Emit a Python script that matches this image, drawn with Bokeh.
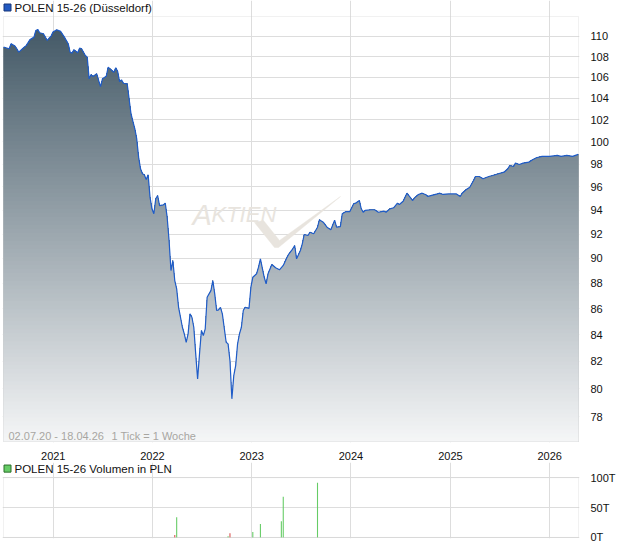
import numpy as np
import pandas as pd
from bokeh.plotting import figure
from bokeh.layouts import column
from bokeh.models import (Range1d, FixedTicker, PrintfTickFormatter, DatetimeTickFormatter,
                          Label, BoxAnnotation)
from bokeh.core.properties import value
from bokeh.embed import file_html
from bokeh.resources import INLINE

# ---- data -------------------------------------------------------------
start = pd.Timestamp("2020-07-02")          # first weekly tick
end = pd.Timestamp("2026-04-17")

# week number after start / weekly closing price
weeks = [0, 3, 4, 6, 7, 8, 10, 12, 14, 16, 17, 18, 19, 21, 23, 24, 25, 26, 28, 30,
         32, 34, 35, 36, 37, 39, 40, 41, 43, 44, 45, 46, 47, 49, 50, 51, 52, 54, 55, 56,
         58, 59, 60, 61, 62, 63, 65, 66, 67, 68, 69, 70, 71, 72, 73, 74, 75, 76, 77, 78,
         79, 80, 81, 82, 84, 85, 86, 87, 88, 89, 90, 91, 92, 93, 94, 95, 96, 97, 98, 99,
         100, 101, 102, 103, 104, 105, 106, 107, 108, 109, 110, 111, 112, 113, 114, 115, 117, 118, 119, 120,
         121, 122, 123, 124, 125, 126, 127, 129, 130, 131, 133, 134, 135, 137, 138, 139, 141, 143, 145, 147,
         149, 150, 152, 153, 154, 156, 157, 158, 160, 161, 163, 165, 166, 168, 170, 172, 174, 175, 177, 178,
         180, 182, 184, 185, 187, 188, 189, 190, 193, 195, 197, 200, 201, 203, 205, 207, 208, 210, 212, 213,
         215, 216, 218, 220, 222, 223, 226, 228, 229, 231, 234, 236, 238, 240, 241, 243, 245, 247, 248, 250,
         252, 255, 257, 260, 263, 265, 266, 268, 269, 271, 273, 276, 278, 280, 283, 287, 291, 293, 296, 299,
         302]
prices = [108.94, 108.78, 109.28, 109.04, 108.78, 108.45, 108.78, 109.11, 109.70, 109.93,
          110.60, 110.70, 110.37, 110.27, 109.60, 109.83, 110.03, 110.43, 110.67, 110.50,
          109.93, 109.28, 108.45, 108.35, 108.68, 108.39, 108.84, 108.78, 108.12, 107.96,
          105.86, 106.27, 106.08, 106.34, 105.70, 105.12, 105.86, 106.11, 106.98, 106.82,
          106.49, 106.92, 106.56, 105.60, 105.76, 105.44, 105.38, 103.97, 102.57, 101.86,
          101.19, 100.28, 98.62, 97.59, 97.15, 97.06, 96.65, 97.06, 95.12, 94.12,
          93.70, 94.98, 95.26, 94.40, 94.46, 94.60, 93.41, 91.46, 89.01, 89.82,
          88.21, 87.55, 86.10, 85.33, 84.56, 84.06, 83.42, 84.06, 85.59, 85.33,
          84.56, 82.55, 80.70, 82.55, 84.31, 83.93, 84.44, 86.89, 87.15, 87.41,
          88.21, 87.15, 85.85, 85.90, 86.10, 85.59, 83.42, 83.30, 82.05, 79.26,
          80.94, 81.68, 83.30, 84.06, 84.56, 85.85, 86.10, 86.02, 87.68, 88.47,
          88.75, 89.28, 89.96, 88.47, 87.95, 88.75, 89.50, 89.23, 89.07, 89.42,
          90.09, 90.37, 90.78, 91.05, 89.96, 90.64, 91.19, 91.96, 91.88, 92.15,
          92.02, 92.57, 93.19, 92.99, 92.57, 92.35, 93.16, 92.57, 92.62, 93.70,
          93.89, 93.89, 94.55, 94.60, 94.83, 94.12, 93.83, 93.98, 94.04, 94.04,
          93.83, 93.92, 93.83, 94.12, 94.21, 94.60, 94.49, 94.77, 95.46, 95.26,
          94.83, 95.06, 95.35, 95.46, 95.32, 95.18, 95.32, 95.40, 95.46, 95.35,
          95.40, 95.40, 95.40, 95.18, 95.46, 95.75, 95.98, 96.56, 96.91, 96.91,
          96.71, 96.91, 97.00, 97.15, 97.29, 97.59, 97.88, 97.79, 98.09, 97.97,
          98.09, 98.18, 98.39, 98.57, 98.69, 98.69, 98.78, 98.69, 98.78, 98.69,
          98.87]

# weekly turnover in PLN
vol_weeks = [90, 91, 118, 119, 131, 135, 146, 147, 165]
volumes = [4000, 34000, 2000, 7000, 9000, 22500, 27000, 68000, 91500]
vol_up = [False, True, True, False, True, True, True, True, True]

price_ticks = [78, 80, 82, 84, 86, 88, 90, 92, 94, 96, 98, 100, 102, 104, 106, 108, 110]
volume_ticks = [0, 50000, 100000]
volume_labels = ["0T", "50T", "100T"]
years = [2021, 2022, 2023, 2024, 2025, 2026]

price_title = "POLEN 15-26 (Düsseldorf)"
volume_title = "POLEN 15-26 Volumen in PLN"
span_note = "02.07.20 - 18.04.26"
tick_note = "1 Tick = 1 Woche"

# ---- helpers ----------------------------------------------------------
def to_ms(ts):
    return (pd.DatetimeIndex(ts) - pd.Timestamp("1970-01-01")) / pd.Timedelta("1ms")

dates = start + pd.to_timedelta(np.array(weeks) * 7, unit="D")
x_ms = np.asarray(to_ms(dates), dtype=float)
vol_dates = start + pd.to_timedelta(np.array(vol_weeks) * 7, unit="D")
x0 = float(to_ms([start])[0])
x1 = float(to_ms([end])[0])
year_ms = [float(v) for v in to_ms([pd.Timestamp(f"{y}-01-01") for y in years])]

FONT = "Liberation Sans"
GRID = "#dddddd"
OUTLINE = "#d2d2d2"
TEXT = "#111111"
W = 620

# chart box (pixels): left 3, right 578; price box top 16, bottom 441
Y_MIN, Y_MAX = 76.26, 112.0
BOX_W, BOX_H = 575, 425
ms_px = (x1 - x0) / BOX_W
log_px = (np.log(Y_MAX) - np.log(Y_MIN)) / BOX_H
# the frame keeps 1px around the box and room for the heading on top
xr0, xr1 = x0 - ms_px, x1 + ms_px
yr0 = float(np.exp(np.log(Y_MIN) - log_px))
yr1 = float(np.exp(np.log(Y_MAX) + 16 * log_px))
H1 = 462

def fx(px):                      # page x pixel -> time
    return xr0 + (px - 2) * ms_px

def fy1(py):                     # page y pixel -> price (log scale)
    return float(np.exp(np.log(yr1) - py * log_px))

# ---- price chart ------------------------------------------------------
p1 = figure(width=W, height=H1, x_axis_type="datetime", y_axis_type="log",
            x_range=Range1d(xr0, xr1), y_range=Range1d(yr0, yr1),
            y_axis_location="right", output_backend="svg", toolbar_location=None,
            min_border_left=2, min_border_right=41, min_border_top=0, min_border_bottom=20)
p1.outline_line_color = None
p1.background_fill_color = "white"
p1.border_fill_color = "white"

p1.xaxis.ticker = FixedTicker(ticks=year_ms)
p1.xaxis.formatter = DatetimeTickFormatter(years="%Y", months="%Y", days="%Y", hours="%Y",
                                           hourmin="%Y", minutes="%Y", minsec="%Y",
                                           seconds="%Y", milliseconds="%Y", microseconds="%Y")
p1.yaxis.ticker = FixedTicker(ticks=price_ticks)
p1.yaxis.formatter = PrintfTickFormatter(format="%d")
for ax in (p1.xaxis[0], p1.yaxis[0]):
    ax.axis_line_color = None
    ax.major_tick_line_color = None
    ax.minor_tick_line_color = None
    ax.major_label_text_font = FONT
    ax.major_label_text_font_size = "11px"
    ax.major_label_text_color = TEXT
p1.xaxis.major_label_standoff = 3
p1.yaxis.major_label_standoff = 5
p1.xgrid.grid_line_color = GRID
p1.xgrid.bounds = (Y_MIN, Y_MAX)
p1.ygrid.grid_line_color = GRID
p1.ygrid.bounds = (x0, x1)
p1.ygrid.minor_grid_line_color = None

# watermark
wm = "#e8e4de"
p1.patch(x=[fx(254), fx(263), fx(279), fx(340), fx(278), fx(274)],
         y=[fy1(222), fy1(220), fy1(240), fy1(196), fy1(247), fy1(247)],
         fill_color=wm, line_color=wm, line_width=0.5)
p1.text(x=[fx(192)], y=[fy1(214)], text=["A"], text_font=value(FONT), text_font_style="italic",
        text_font_size="29px", text_color=wm, text_baseline="alphabetic")
p1.text(x=[fx(211)], y=[fy1(214)], text=["KTIEN"], text_font=value(FONT), text_font_style="italic",
        text_font_size="22px", text_color=wm, text_baseline="alphabetic")

# gradient fill under the price line, built from horizontal colour bands
N_BANDS = 106
edges = np.linspace(np.log(Y_MIN), np.log(Y_MAX), N_BANDS + 1)
ly = np.log(np.array(prices, dtype=float))
rx, ry = [x_ms[0]], [ly[0]]
for i in range(len(x_ms) - 1):
    a, b = ly[i], ly[i + 1]
    inner = edges[(edges > min(a, b)) & (edges < max(a, b))]
    if a > b:
        inner = inner[::-1]
    for e in inner:
        t = (e - a) / (b - a)
        rx.append(x_ms[i] + t * (x_ms[i + 1] - x_ms[i]))
        ry.append(e)
    rx.append(x_ms[i + 1])
    ry.append(b)
rx, ry = np.array(rx), np.array(ry)
top_rgb = np.array([63, 85, 99])
bot_rgb = np.array([245, 246, 247])
for k in range(N_BANDS - 1, -1, -1):
    t = (k + 0.5) / N_BANDS
    r, g, b_ = (bot_rgb + (top_rgb - bot_rgb) * t).round().astype(int)
    col = "#%02x%02x%02x" % (r, g, b_)
    p1.varea(x=rx, y1=Y_MIN, y2=np.exp(np.minimum(ry, edges[k + 1])), fill_color=col)

p1.line(x=x_ms, y=prices, line_color="#1f5cc8", line_width=1.2)

p1.add_layout(BoxAnnotation(left=x0, right=x1, bottom=Y_MIN, top=Y_MAX, fill_alpha=0,
                            line_color=OUTLINE, line_width=1))

p1.add_layout(Label(x=x0, y=Y_MIN, x_offset=5, y_offset=6, text=span_note,
                    text_font=FONT, text_font_size="11px", text_color="#a8a6a2",
                    text_baseline="middle"))
p1.add_layout(Label(x=x0, y=Y_MIN, x_offset=108, y_offset=6, text=tick_note,
                    text_font=FONT, text_font_size="11px", text_color="#a8a6a2",
                    text_baseline="middle"))

# heading with colour key
p1.quad(left=[fx(3.5)], right=[fx(10.5)], top=[fy1(3.5)], bottom=[fy1(10.5)],
        fill_color="#2259c1", line_color="#17367a", line_width=1)
p1.text(x=[fx(14)], y=[fy1(7.5)], text=[price_title], text_font=value(FONT),
        text_font_size="11.5px", text_color=TEXT, text_baseline="middle")

# ---- volume chart -----------------------------------------------------
H2 = 84
V_TOP = 100000
v_px = V_TOP / 59                 # box 477..536 on the page
vr0, vr1 = -v_px, V_TOP + 15 * v_px

def fy2(py):                      # page y pixel -> volume
    return vr1 - (py - H1) * v_px

p2 = figure(width=W, height=H2, x_axis_type="datetime", x_range=p1.x_range,
            y_range=Range1d(vr0, vr1), y_axis_location="right", x_axis_location=None,
            output_backend="svg", toolbar_location=None,
            min_border_left=2, min_border_right=41, min_border_top=0, min_border_bottom=8)
p2.outline_line_color = None
p2.border_fill_color = "white"
p2.xgrid.ticker = FixedTicker(ticks=year_ms)
p2.xgrid.grid_line_color = GRID
p2.xgrid.bounds = (0, V_TOP)
p2.ygrid.grid_line_color = GRID
p2.ygrid.bounds = (x0, x1)
p2.yaxis.ticker = FixedTicker(ticks=volume_ticks)
p2.yaxis.major_label_overrides = {t: lab for t, lab in zip(volume_ticks, volume_labels)}
p2.yaxis.axis_line_color = None
p2.yaxis.major_tick_line_color = None
p2.yaxis.minor_tick_line_color = None
p2.yaxis.major_label_text_font = FONT
p2.yaxis.major_label_text_font_size = "11px"
p2.yaxis.major_label_text_color = TEXT
p2.yaxis.major_label_standoff = 5

bar_colors = ["#66cc66" if up else "#d9534f" for up in vol_up]
p2.vbar(x=vol_dates, top=volumes, bottom=0, width=4 * 86400000,
        fill_color=bar_colors, line_color=None)

p2.add_layout(BoxAnnotation(left=x0, right=x1, bottom=0, top=V_TOP, fill_alpha=0,
                            line_color=OUTLINE, line_width=1))

p2.quad(left=[fx(3.5)], right=[fx(10.5)], top=[fy2(464.5)], bottom=[fy2(471.5)],
        fill_color="#66cc66", line_color="#2b6e2b", line_width=1)
p2.text(x=[fx(14)], y=[fy2(468)], text=[volume_title], text_font=value(FONT),
        text_font_size="11.5px", text_color=TEXT, text_baseline="middle")

layout = column(p1, p2, spacing=0)
open("out.html", "w").write(file_html(layout, INLINE))
